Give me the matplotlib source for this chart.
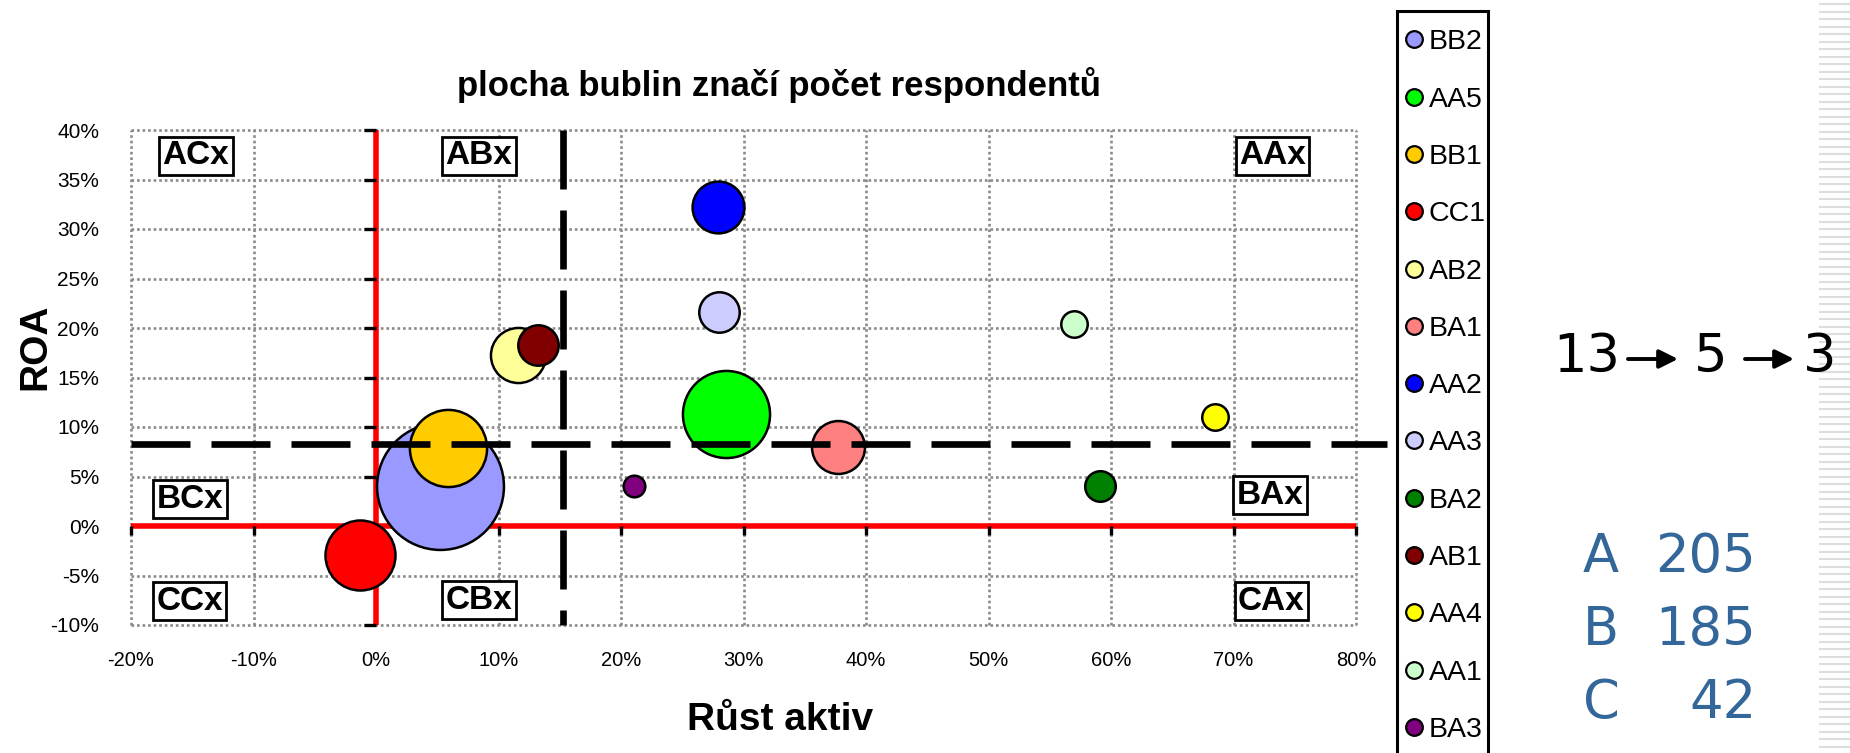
import numpy as np
import matplotlib
matplotlib.use("Agg")
import matplotlib.pyplot as plt
from matplotlib import markers
from matplotlib.patches import Rectangle

plt.rcParams['font.family'] = ['Liberation Sans', 'DejaVu Sans']

# --- data ---
names = ["BB2", "AA5", "BB1", "CC1", "AB2", "BA1", "AA2",
         "AA3", "BA2", "AB1", "AA4", "AA1", "BA3"]
growth = [5.2, 28.6, 5.9, -1.3, 11.6, 37.7, 27.9,
          28.0, 59.1, 13.2, 68.5, 57.0, 21.1]          # Růst aktiv [%]
roa = [4.0, 11.3, 7.9, -2.9, 17.3, 8.0, 32.2,
       21.6, 4.0, 18.3, 11.0, 20.4, 4.0]               # ROA [%]
respondents = [138, 65, 51, 42, 26, 24, 23, 14, 8, 14, 6, 6, 4]
colors = ["#9999FF", "#00FF00", "#FFCC00", "#FF0000", "#FFFF99", "#FF8080", "#0000FF",
          "#CCCCFF", "#008000", "#800000", "#FFFF00", "#CCFFCC", "#800080"]

x_ticks = [-20, -10, 0, 10, 20, 30, 40, 50, 60, 70, 80]
y_ticks = [-10, -5, 0, 5, 10, 15, 20, 25, 30, 35, 40]

growth_split = 15.3
roa_split = 8.3

quadrants = ["ACx", "ABx", "AAx", "BCx", "BAx", "CCx", "CBx", "CAx"]
quad_x = [-14.7, 8.4, 73.2, -15.2, 73.0, -15.2, 8.4, 73.1]
quad_y = [37.4, 37.4, 37.4, 2.7, 3.1, -7.6, -7.5, -7.6]

funnel = [13, 5, 3]
groups = ["A", "B", "C"]
group_counts = [205, 185, 42]

W, H = 1850, 753
fig = plt.figure(figsize=(W / 100, H / 100), dpi=100)

# overlay axes in pixel units for the legend and side texts
ov = fig.add_axes([0, 0, 1, 1], zorder=0)
ov.set_xlim(0, W)
ov.set_ylim(H, 0)
ov.axis('off')

ax = fig.add_axes([131 / W, 1 - 625 / H, 1225 / W, 495 / H], zorder=1)
ax.set_xlim(-20, 80)
ax.set_ylim(-10, 40)
for s in ax.spines.values():
    s.set_visible(False)

ax.set_xticks(x_ticks)
ax.set_xticklabels([f"{v}%" for v in x_ticks])
ax.set_yticks(y_ticks)
ax.set_yticklabels([f"{v}%" for v in y_ticks])
ax.tick_params(axis='x', length=0, pad=19, labelsize=14.5)
ax.tick_params(axis='y', length=0, pad=23, labelsize=15)
ax.grid(True, color='#8a8a8a', linestyle=(0, (1, 1.1)), linewidth=1.9, zorder=0)
for gl in ax.get_xgridlines() + ax.get_ygridlines():
    gl.set_clip_on(False)

# red axes through zero with black ticks
ax.axvline(0, color='red', lw=4, zorder=2)
ax.axhline(0, color='red', lw=4, zorder=2)
ax.plot(np.zeros(len(y_ticks)), y_ticks, ls='none', marker=markers.TICKLEFT,
        ms=8.5, mew=2.4, color='black', zorder=2.5, clip_on=False)
ax.plot(x_ticks, np.zeros(len(x_ticks)), ls='none', marker=markers.TICKDOWN,
        ms=6.5, mew=2.4, color='black', zorder=2.5, clip_on=False)

# bubbles: area proportional to respondents
sizes = 60.5 * np.array(respondents)
for i in range(len(names)):
    ax.scatter(growth[i], roa[i], s=sizes[i], color=colors[i], edgecolors='black',
               linewidths=1.8, zorder=3 + i * 0.01)

# dashed split lines
ax.plot([-20, 82.5], [roa_split, roa_split], color='black', lw=4.8,
        ls=(0, (8.85, 3.15)), clip_on=False, zorder=10)
ax.plot([growth_split, growth_split], [40, -10], color='black', lw=4.8,
        ls=(0, (8.85, 3.15)), clip_on=False, zorder=10)

for q, qx, qy in zip(quadrants, quad_x, quad_y):
    ax.text(qx, qy, q, ha='center', va='center', fontsize=24, fontweight='bold',
            bbox=dict(boxstyle='square,pad=0.1', fc='white', ec='black', lw=2), zorder=5)

fig.text(779 / W, 1 - 85 / H, "plocha bublin značí počet respondentů",
         ha='center', va='center', fontsize=25, fontweight='bold')
fig.text(780 / W, 1 - 720 / H, "Růst aktiv", ha='center', va='center',
         fontsize=28, fontweight='bold')
fig.text(35 / W, 1 - 347 / H, "ROA", ha='center', va='center', rotation=90,
         fontsize=28, fontweight='bold')

# striped slide edge
ov.hlines(np.arange(4, H, 7.5), 1819, W, color='#dddddd', lw=1.5)

# legend
ov.add_patch(Rectangle((1396.5, 10.5), 91.5, 800, fc='white', ec='black', lw=2.2,
                       clip_on=False))
for i, (n, c) in enumerate(zip(names, colors)):
    yy = 39.3 + i * 57.3
    ov.plot(1414, yy, marker='o', ms=12, mfc=c, mec='black', mew=1.6)
    ov.text(1429, yy, n, fontsize=20.5, ha='left', va='center_baseline')

# side texts
for num, xx in zip(funnel, [1587, 1711, 1820]):
    ov.text(xx, 372, str(num), ha='center', va='baseline', fontsize=38,
            family='DejaVu Sans')
for x0, x1 in [(1628, 1678), (1745, 1794)]:
    ov.annotate('', xy=(x1, 359), xytext=(x0, 359),
                arrowprops=dict(arrowstyle='-|>', lw=2.8, color='black',
                                mutation_scale=28, shrinkA=0, shrinkB=0))
for g, cnt, base in zip(groups, group_counts, [571.7, 645, 718.3]):
    ov.text(1601, base, g, ha='center', va='baseline', fontsize=38,
            family='DejaVu Sans', color='#336699')
    ov.text(1756, base, str(cnt), ha='right', va='baseline', fontsize=38,
            family='DejaVu Sans', color='#336699')

fig.savefig("out.png", dpi=100)
